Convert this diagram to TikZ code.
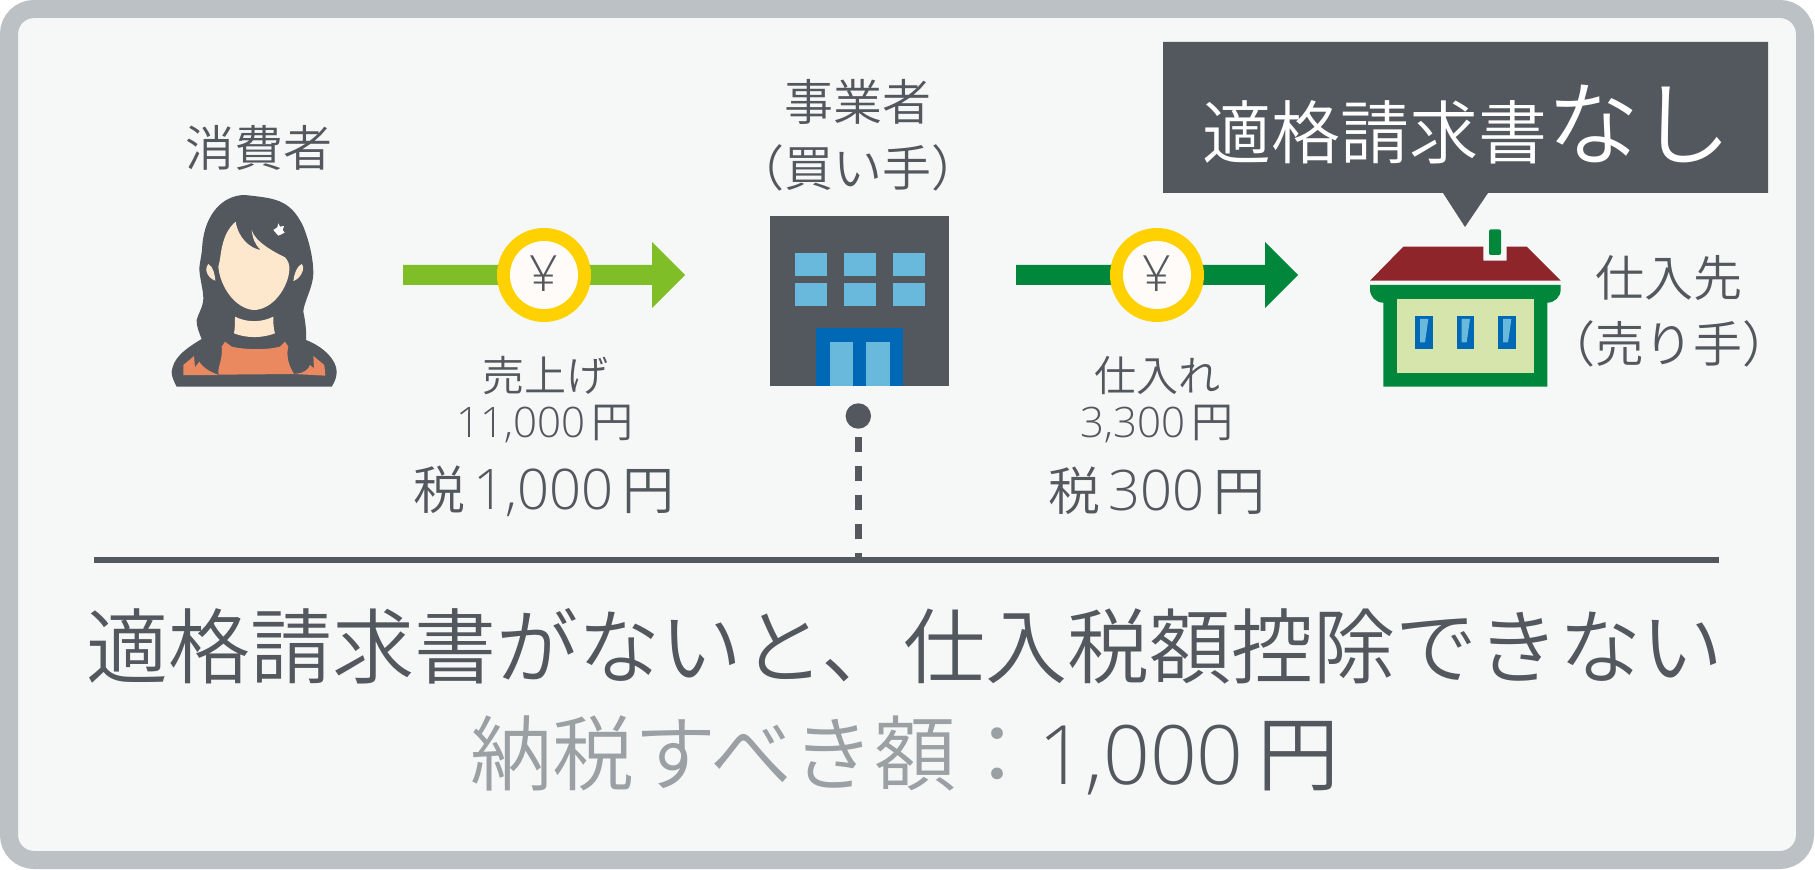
\documentclass[tikz,border=0pt]{standalone}
\usepackage{fontspec}
\setmainfont{Open Sans Light}
\newfontfamily\cjk{Noto Sans CJK JP DemiLight}
\definecolor{ink}{HTML}{53575E}
\definecolor{framec}{HTML}{BCC1C6}
\definecolor{paper}{HTML}{F6F8F7}
\definecolor{skin}{HTML}{FDE7CD}
\definecolor{shirt}{HTML}{EA8860}
\definecolor{winblue}{HTML}{69B9DC}
\definecolor{doorblue}{HTML}{0068B5}
\definecolor{leaf}{HTML}{80BE28}
\definecolor{forest}{HTML}{00873C}
\definecolor{coin}{HTML}{FFD100}
\definecolor{coinin}{HTML}{FFFBF8}
\definecolor{roof}{HTML}{8E252B}
\definecolor{wall}{HTML}{D5E5AB}
\definecolor{mute}{HTML}{9AA0A3}
\newcommand{\pxfont}[1]{\pgfmathsetlengthmacro\pxf{#1*0.5}\fontsize{\pxf}{\pxf}\selectfont}
\tikzset{
 lbl/.style={inner sep=0pt,text=ink,align=center},
 zoomed/.style={x=0.16667pt,y=-0.16667pt},
}
\begin{document}
\begin{tikzpicture}[x=0.5pt,y=-0.5pt]
\useasboundingbox (0,0) rectangle (1815,870);
\draw[framec,fill=paper,line width=9pt,rounded corners=12.5pt] (9,9) rectangle (1805,860);
% person
\begin{scope}[shift={(140,170)},zoomed]
\fill[ink] (110,650) .. controls (100,630) and (95,620) .. (95,605) .. controls (100,565) and (130,540) .. (185,507)
 .. controls (178,490) and (168,465) .. (170,450) .. controls (175,430) and (190,410) .. (190,385)
 .. controls (190,360) and (178,320) .. (178,295) .. controls (180,270) and (185,260) .. (187,225)
 .. controls (195,130) and (250,75) .. (315,75) .. controls (400,85) and (450,85) .. (490,170)
 .. controls (510,220) and (520,270) .. (520,310) .. controls (520,350) and (490,400) .. (490,425)
 .. controls (495,450) and (500,480) .. (498,510) .. controls (550,530) and (590,570) .. (590,605)
 .. controls (590,620) and (585,635) .. (575,650) -- cycle;
\fill[skin] (287,155) .. controls (295,205) and (330,235) .. (362,240) .. controls (345,225) and (338,205) .. (335,180)
 .. controls (345,215) and (400,245) .. (435,262) .. controls (445,272) and (449,285) .. (448,300)
 .. controls (445,350) and (400,420) .. (340,420) .. controls (285,415) and (240,350) .. (235,290)
 .. controls (245,260) and (240,195) .. (287,155) -- cycle;
\fill[skin] (285,440) .. controls (285,460) and (285,475) .. (282,490) .. controls (320,505) and (365,505) .. (405,490)
 .. controls (400,475) and (400,460) .. (400,440) .. controls (365,458) and (320,458) .. (285,440) -- cycle;
\fill[skin] (205,282) .. controls (220,290) and (225,315) .. (226,332) .. controls (205,325) and (190,300) .. (205,282) -- cycle;
\fill[skin] (485,282) .. controls (470,288) and (462,315) .. (460,333) .. controls (480,328) and (498,295) .. (485,282) -- cycle;
\fill[shirt] (255,515) -- (275,530) .. controls (320,540) and (380,540) .. (420,530) -- (435,515) -- (445,530)
 .. controls (438,555) and (445,585) .. (462,612) -- (237,614) .. controls (228,600) and (250,570) .. (245,530) -- cycle;
\fill[shirt] (130,615) -- (130,585) -- (162,558) -- (165,592) -- (178,575) .. controls (190,595) and (215,608) .. (237,615) -- cycle;
\fill[shirt] (462,612) .. controls (490,610) and (505,600) .. (510,585) -- (522,595) -- (520,558) -- (553,585) -- (556,617) -- cycle;
\fill[white] (400,180) -- (412,172) -- (415,160) -- (420,170) -- (432,168) -- (428,180) -- (434,188) -- (415,197) -- cycle;
\end{scope}
% building
\fill[ink] (770,216) rectangle (949,386);
\foreach \wx in {794.5,844,893}{
 \fill[winblue] (\wx,253) rectangle ++(32,22.7);
 \fill[winblue] (\wx,283.3) rectangle ++(32,22.4);
}
\fill[doorblue] (816,328.3) rectangle (903.3,386);
\fill[winblue] (829.7,342) rectangle (853,386);
\fill[winblue] (866.3,342) rectangle (890,386);
\node[circle,fill=ink,minimum size=12.7pt,inner sep=0pt] (dot) at (858.3,416) {};
\coordinate (rulel) at (94,560);
\coordinate (ruler) at (1719,560);
\coordinate (ruleb) at (858.3,560);
\draw[ink,line width=3pt] (rulel) -- (ruler);
\draw[ink,line width=3.5pt,dash pattern=on 7.5pt off 7pt] (858.3,437.3) -- (ruleb);
% arrows
\foreach \ox/\col in {0/leaf,613/forest}{
 \begin{scope}[shift={(\ox,0)}]
 \fill[\col] (403,265) -- (652,265) -- (652,242) -- (685,275) -- (652,308) -- (652,285) -- (403,285) -- cycle;
 \fill[coin] (544,275) circle (23.5pt);
 \fill[coinin] (544,275) circle (17pt);
 \node[lbl] at (544,274) {\pxfont{50}¥};
 \end{scope}
}
% house
\begin{scope}[shift={(1330,190)},zoomed]
\fill[forest,rounded corners=1pt] (477,118) rectangle (513,195);
\fill[roof] (120,272) -- (220,170) -- (460,170) -- (460,212) -- (530,212) -- (530,170) -- (590,170) -- (692,272) -- cycle;
\fill[forest] (120,285) -- (692,285) -- (692,298) .. controls (692,320) and (675,338) .. (652,338) -- (652,590) -- (160,590) -- (160,338) .. controls (137,338) and (120,320) .. (120,298) -- cycle;
\fill[wall] (200,328) rectangle (612,550);
\foreach \hx in {255,380,504}{
 \fill[doorblue] (\hx,377) rectangle ++(53,100);
 \fill[winblue] (\hx+15,387) -- ++(25,0) -- ++(-10,70) -- ++(-15,0) -- cycle;
}
\end{scope}
% callout
\fill[ink] (1163,42) -- (1768,42) -- (1768,193) -- (1488,193) -- (1465,227) -- (1443,193) -- (1163,193) -- cycle;
\node[lbl,text=white] (cap) at (1467,125) {\cjk\pxfont{69}適格請求書\pxfont{92}なし};
% texts
\node[lbl] (cons) at (259,148) {\cjk\pxfont{49}消費者};
\node[lbl] (biz) at (858,102) {\cjk\pxfont{49}事業者};
\node[lbl] (buyer) at (858,168) {\cjk\pxfont{49}（買い手）};
\node[lbl] (sup) at (1669,278) {\cjk\pxfont{49}仕入先};
\node[lbl] (seller) at (1669,344) {\cjk\pxfont{49}（売り手）};
\node[lbl] (s1) at (545,376) {\cjk\pxfont{42}売上げ};
\node[lbl] (s2) at (545,424) {\pxfont{42}11,000\,\cjk\pxfont{42}円};
\node[lbl] (s3) at (544,491) {\cjk\pxfont{52}税\,\rmfamily\pxfont{56}1,000\,\cjk\pxfont{52}円};
\node[lbl] (p1) at (1157,376) {\cjk\pxfont{42}仕入れ};
\node[lbl] (p2) at (1157,424) {\pxfont{42}3,300\,\cjk\pxfont{42}円};
\node[lbl] (p3) at (1157,491) {\cjk\pxfont{52}税\,\rmfamily\pxfont{56}300\,\cjk\pxfont{52}円};
\node[lbl] (main) at (905,646) {\cjk\pxfont{82}適格請求書がないと、仕入税額控除できない};
\node[lbl] (due) at (905,755) {\cjk\pxfont{82}\textcolor{mute}{納税すべき額：}\rmfamily\pxfont{82}1,000\,\cjk\pxfont{82}円};
\end{tikzpicture}
\end{document}
